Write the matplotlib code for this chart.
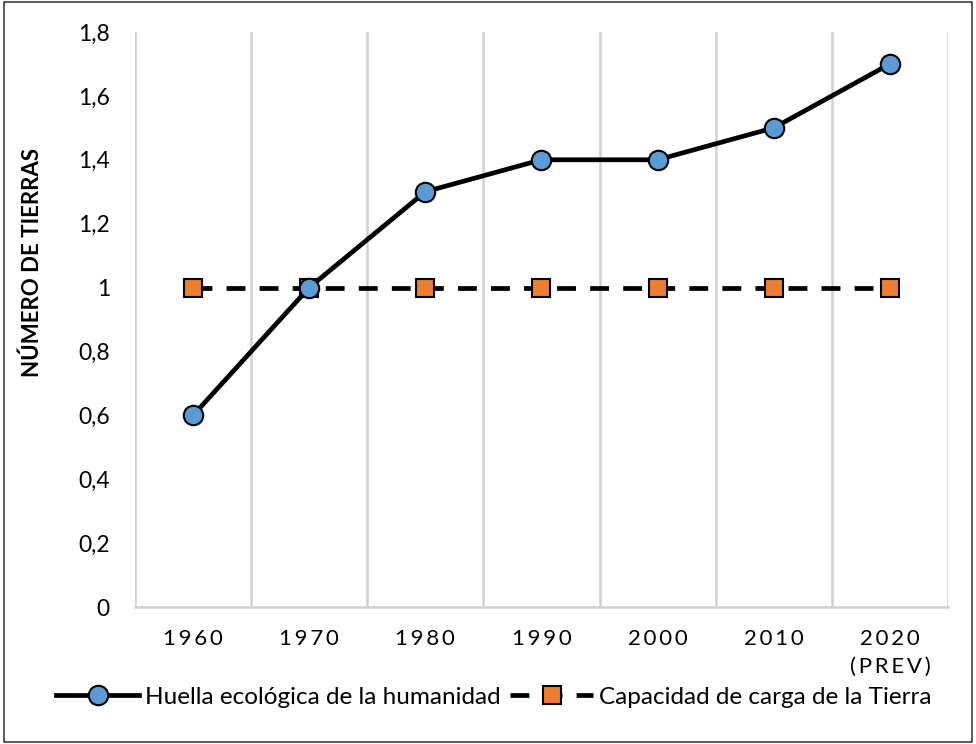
import matplotlib
matplotlib.use("Agg")
import matplotlib.pyplot as plt
from matplotlib.patches import Rectangle

plt.rcParams['font.family'] = ['Lato', 'DejaVu Sans']

years = ["1960", "1970", "1980", "1990", "2000", "2010", "2020\n(PREV)"]
huella = [0.6, 1.0, 1.3, 1.4, 1.4, 1.5, 1.7]
capacidad = [1, 1, 1, 1, 1, 1, 1]
yticks = [0, 0.2, 0.4, 0.6, 0.8, 1.0, 1.2, 1.4, 1.6, 1.8]

BLUE = "#5B9BD5"
ORANGE = "#ED7D31"
GRID = "#D0D0D0"

fig = plt.figure(figsize=(9.76, 7.44), dpi=100)
ax = fig.add_axes([0.1383, 0.1841, 0.8330, 0.7729])

x = list(range(len(years)))
ax.plot(x, huella, color="black", lw=3.4, marker="o", ms=14, mfc=BLUE,
        mec="black", mew=1.5, label="Huella ecológica de la humanidad", zorder=4)
ax.plot(x, capacidad, color="black", lw=3.4, ls=(0, (4, 3)), marker="s", ms=13,
        mfc=ORANGE, mec="black", mew=1.5, label="Capacidad de carga de la Tierra", zorder=3)

ax.set_xlim(-0.5, len(years) - 0.5)
ax.set_ylim(0, 1.8)
for b in [i + 0.5 for i in range(-1, len(years))]:
    ax.axvline(b, color=GRID, lw=1.8, zorder=1)

# spaced-out year labels like the original
spaced = ["\n".join("\u2009".join(part) for part in y.split("\n")) for y in years]
ax.set_xticks(x)
ax.set_xticklabels(spaced, fontsize=16, linespacing=1.45)
ax.set_yticks(yticks)
ax.set_yticklabels([f"{v:g}".replace(".", ",") for v in yticks], fontsize=16.5)
ax.tick_params(axis="x", length=0, pad=16)
ax.tick_params(axis="y", length=0, pad=18)
for s in ["top", "right", "left"]:
    ax.spines[s].set_visible(False)
ax.spines["bottom"].set_color(GRID)
ax.spines["bottom"].set_linewidth(1.8)

ax.set_ylabel("NÚMERO DE TIERRAS", fontsize=16, fontweight="bold")
ax.yaxis.set_label_coords(-0.113, 0.6)

fig.legend(loc="center", bbox_to_anchor=(0.506, 0.063), ncol=2, frameon=False,
           fontsize=17.5, handlelength=3.4, handletextpad=0.25, columnspacing=0.4)

fig.patches.append(Rectangle((0.004, 0.003), 0.992, 0.994, transform=fig.transFigure,
                             fill=False, edgecolor="#404040", lw=1.2))

fig.savefig("out.png", dpi=100)
